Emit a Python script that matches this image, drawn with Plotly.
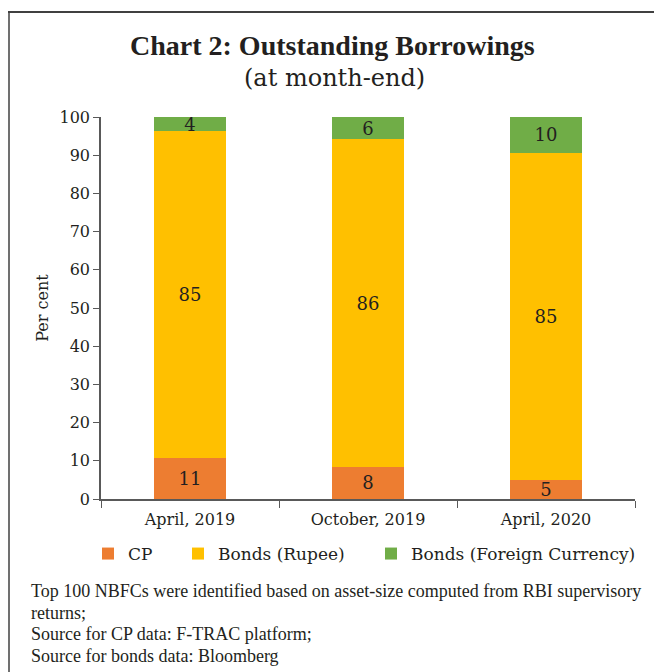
import plotly.graph_objects as go

categories = ["April, 2019", "October, 2019", "April, 2020"]
cp = [10.7, 8.4, 5.0]
bonds_rupee = [85.6, 85.8, 85.6]
bonds_foreign = [3.7, 5.8, 9.4]
cp_labels = ["11", "8", "5"]
rupee_labels = ["85", "86", "85"]
foreign_labels = ["4", "6", "10"]
footnote_lines = [
    "Top 100 NBFCs were identified based on asset-size computed from RBI supervisory",
    "returns;",
    "Source for CP data: F-TRAC platform;",
    "Source for bonds data: Bloomberg",
]

SERIF = "DejaVu Serif"
TEXT = "#231F20"
AX = "#595959"

series = [
    ("CP", cp, cp_labels, "#ED7D31", "legend"),
    ("Bonds (Rupee)", bonds_rupee, rupee_labels, "#FFC000", "legend2"),
    ("Bonds (Foreign Currency)", bonds_foreign, foreign_labels, "#70AD47", "legend3"),
]

L, R, T, B = 101, 19, 117, 173
W, H = 654, 672
pw, ph = W - L - R, H - T - B


def px_x(px):
    return (px - L) / pw


def px_y(py):
    return (H - B - py) / ph


fig = go.Figure()
for name, vals, labels, col, leg in series:
    fig.add_trace(go.Bar(
        x=categories, y=vals, name=name, text=labels,
        textposition="inside", insidetextanchor="middle", textangle=0,
        textfont=dict(family=SERIF, size=18, color=TEXT),
        marker=dict(color=col, line=dict(width=0)),
        hoverinfo="skip", legend=leg,
    ))


def leg(xpx):
    return dict(
        orientation="h", x=px_x(xpx), xanchor="left", y=px_y(554), yanchor="middle",
        font=dict(family=SERIF, size=17, color=TEXT), bgcolor="rgba(0,0,0,0)",
        borderwidth=0,
    )


annotations = [
    dict(text="<b>Chart 2: Outstanding Borrowings</b>", xref="paper", yref="paper",
         x=px_x(332), y=px_y(45), xanchor="center", yanchor="middle", showarrow=False,
         font=dict(family="Liberation Serif", size=28, color=TEXT)),
    dict(text="(at month-end)", xref="paper", yref="paper",
         x=px_x(334), y=px_y(78), xanchor="center", yanchor="middle", showarrow=False,
         font=dict(family=SERIF, size=24, color=TEXT)),
]
for line, ypx in zip(footnote_lines, [591, 613, 634, 656]):
    annotations.append(dict(
        text=line, xref="paper", yref="paper", x=px_x(29), y=px_y(ypx),
        xanchor="left", yanchor="middle", align="left", showarrow=False,
        font=dict(family="Liberation Serif", size=18, color=TEXT)))

fig.update_layout(
    width=W, height=H,
    margin=dict(l=L, r=R, t=T, b=B, pad=0),
    paper_bgcolor="white", plot_bgcolor="white",
    barmode="stack", bargap=0.6,
    uniformtext=dict(minsize=18, mode="show"),
    font=dict(family=SERIF, color=TEXT),
    showlegend=True,
    legend=leg(88),
    legend2=leg(178),
    legend3=leg(371),
    xaxis=dict(
        showline=True, linecolor=AX, linewidth=1.5,
        ticks="outside", tickson="boundaries", ticklen=7, tickcolor=AX,
        tickfont=dict(family=SERIF, size=16, color=TEXT), ticklabelstandoff=5,
        showgrid=False, fixedrange=True,
    ),
    yaxis=dict(
        range=[0, 100], dtick=10, showline=True, linecolor=AX, linewidth=1.5,
        ticks="outside", ticklen=6, tickcolor=AX,
        tickfont=dict(family=SERIF, size=16, color=TEXT),
        showgrid=False, zeroline=False,
        title=dict(text="Per cent", font=dict(family=SERIF, size=16, color=TEXT), standoff=7),
    ),
    annotations=annotations,
    shapes=[
        dict(type="line", xref="paper", yref="paper", x0=px_x(8), x1=px_x(656),
             y0=px_y(12), y1=px_y(12), line=dict(color="#404040", width=2)),
        dict(type="line", xref="paper", yref="paper", x0=px_x(9), x1=px_x(9),
             y0=px_y(11), y1=px_y(674), line=dict(color="#404040", width=1.5)),
    ],
)

fig.write_html("out.html")
